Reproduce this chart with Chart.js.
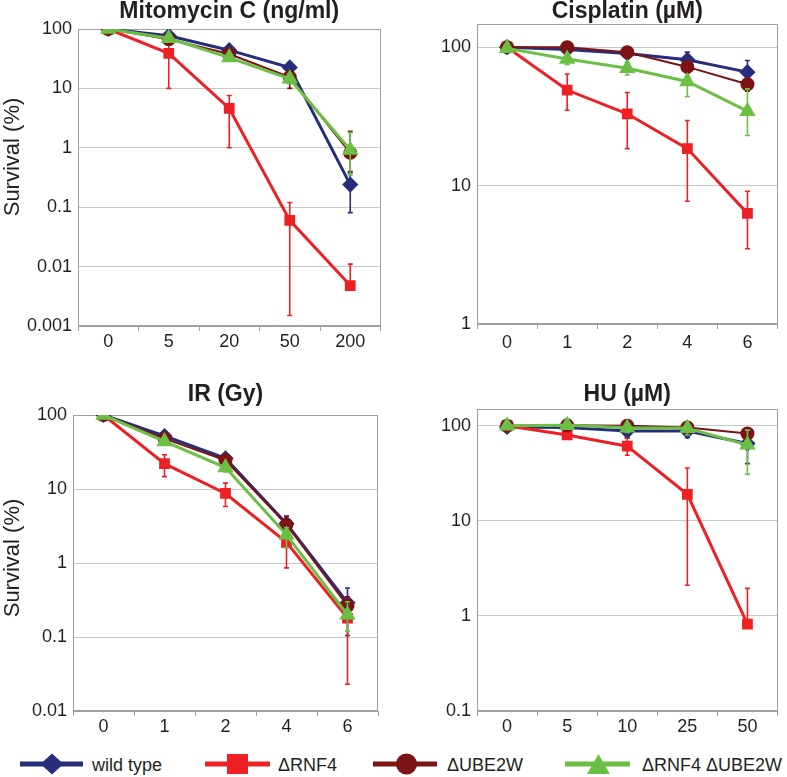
<!DOCTYPE html>
<html>
<head>
<meta charset="utf-8">
<script src="https://cdn.jsdelivr.net/npm/chart.js@4.4.1/dist/chart.umd.min.js"></script>
<style>
  body { margin: 0; background: #fff; width: 787px; height: 777px; position: relative; overflow: hidden;
         font-family: "Liberation Sans", Arial, sans-serif; color: #231f20; }
  canvas { position: absolute; }
  .ylab { position: absolute; width: 200px; height: 26px; line-height: 26px; text-align: center;
          font-size: 22px; transform: rotate(-90deg); white-space: nowrap; }
  .icon { position: absolute; top: 752px; }
  .ltext { position: absolute; top: 755px; font-size: 18px; line-height: 20px; white-space: nowrap; }
</style>
</head>
<body>
<canvas id="mmc" width="390" height="352" style="left:0;top:0"></canvas>
<canvas id="cis" width="387" height="352" style="left:400px;top:0"></canvas>
<canvas id="ir" width="390" height="375" style="left:0;top:370px"></canvas>
<canvas id="hu" width="387" height="375" style="left:400px;top:370px"></canvas>

<div class="ylab" style="left:-88px;top:144px">Survival (%)</div>
<div class="ylab" style="left:-88px;top:545px">Survival (%)</div>

<svg class="icon" style="left:20px" width="63" height="24">
  <line x1="0" y1="12" x2="63" y2="12" stroke="#262e7b" stroke-width="5"/>
  <polygon points="32,1.5 43.5,12 32,22.5 20.5,12" fill="#262e7b"/>
</svg>
<span class="ltext" style="left:92px">wild type</span>
<svg class="icon" style="left:205px" width="65" height="24">
  <line x1="0" y1="12" x2="65" y2="12" stroke="#ed2124" stroke-width="5"/>
  <rect x="22" y="2" width="21" height="20" fill="#ed2124"/>
</svg>
<span class="ltext" style="left:278px">ΔRNF4</span>
<svg class="icon" style="left:373px" width="64" height="24">
  <line x1="0" y1="12" x2="64" y2="12" stroke="#7d1315" stroke-width="5"/>
  <circle cx="33.5" cy="12" r="10.5" fill="#7d1315"/>
</svg>
<span class="ltext" style="left:447px">ΔUBE2W</span>
<svg class="icon" style="left:565px" width="65" height="24">
  <line x1="0" y1="12" x2="65" y2="12" stroke="#6cbf45" stroke-width="5"/>
  <polygon points="33.5,2 45,22 22,22" fill="#6cbf45"/>
</svg>
<span class="ltext" style="left:642px">ΔRNF4 ΔUBE2W</span>

<script>
// series names
const seriesNames = ["wild type", "ΔRNF4", "ΔUBE2W", "ΔRNF4 ΔUBE2W"];

// Mitomycin C
const mmcLabels = ["0", "5", "20", "50", "200"];
const mmcTicks = [0.001, 0.01, 0.1, 1, 10, 100];
const mmcTickLabels = ["0.001", "0.01", "0.1", "1", "10", "100"];
const mmcWT = [100, 77, 44, 22.5, 0.24];
const mmcWTErr = [[95, 105], [70, 84], [40, 49], [20, 25], [0.081, 0.38]];
const mmcRNF4 = [100, 39, 4.6, 0.06, 0.0048];
const mmcRNF4Err = [[90, 110], [10, 58], [1.0, 7.6], [0.0015, 0.12], [0.0048, 0.011]];
const mmcUBE2W = [100, 67, 38, 15.5, 0.82];
const mmcUBE2WErr = [[95, 105], [58, 75], [34, 42], [10, 17], [0.4, 1.9]];
const mmcDouble = [100, 70, 33, 14.5, 0.92];
const mmcDoubleErr = [[95, 105], [62, 78], [30, 37], [12, 17], [0.35, 1.8]];

// Cisplatin
const cisLabels = ["0", "1", "2", "4", "6"];
const cisTicks = [1, 10, 100];
const cisTickLabels = ["1", "10", "100"];
const cisWT = [100, 96, 90, 81, 66];
const cisWTErr = [[97, 103], [92, 100], [85, 98], [72, 92], [55, 80]];
const cisRNF4 = [100, 49, 33, 18.5, 6.3];
const cisRNF4Err = [[97, 103], [35, 64], [18.5, 47], [7.7, 29.5], [3.5, 9.1]];
const cisUBE2W = [100, 100, 92, 72, 54];
const cisUBE2WErr = [[96, 104], [94, 107], [86, 98], [65, 80], [48, 58]];
const cisDouble = [98, 82, 70.5, 56.5, 34.5];
const cisDoubleErr = [[95, 103], [75, 88], [63, 78], [44, 62], [23, 50]];

// IR
const irLabels = ["0", "1", "2", "4", "6"];
const irTicks = [0.01, 0.1, 1, 10, 100];
const irTickLabels = ["0.01", "0.1", "1", "10", "100"];
const irWT = [100, 52, 26, 3.4, 0.29];
const irWTErr = [[95, 105], [47, 58], [23, 29], [3.0, 4.0], [0.105, 0.46]];
const irRNF4 = [100, 22, 8.7, 1.9, 0.18];
const irRNF4Err = [[95, 105], [14.7, 29], [5.8, 12], [0.86, 2.6], [0.023, 0.35]];
const irUBE2W = [100, 48, 24.5, 3.3, 0.265];
const irUBE2WErr = [[96, 104], [44, 52], [22, 27], [2.7, 4.3], [0.2, 0.35]];
const irDouble = [100, 44, 19.5, 2.4, 0.2];
const irDoubleErr = [[96, 104], [40, 48], [17, 22], [1.6, 3.0], [0.12, 0.3]];

// HU
const huLabels = ["0", "5", "10", "25", "50"];
const huTicks = [0.1, 1, 10, 100];
const huTickLabels = ["0.1", "1", "10", "100"];
const huWT = [97, 96, 88, 88, 65];
const huWTErr = [[93, 101], [92, 100], [75, 95], [75, 95], [40, 75]];
const huRNF4 = [100, 80, 61, 19, 0.82];
const huRNF4Err = [[95, 105], [76, 84], [49, 74], [2.1, 36], [0.82, 1.95]];
const huUBE2W = [100, 101, 100, 96, 83];
const huUBE2WErr = [[94, 106], [95, 107], [92, 110], [88, 104], [76, 90]];
const huDouble = [100, 101, 95, 94, 63];
const huDoubleErr = [[94, 106], [95, 108], [85, 104], [80, 104], [31, 90]];

const styles = [
  { color: "#262e7b", point: "rectRot", radius: 6, width: 3 },
  { color: "#ed2124", point: "rect", radius: 5.5, width: 3 },
  { color: "#7d1315", point: "circle", radius: 6, width: 2 },
  { color: "#6cbf45", point: "triangle", radius: 6.5, width: 3 }
];

Chart.defaults.font.family = "'Liberation Sans', Arial, sans-serif";
Chart.defaults.color = "#231f20";

const framePlugin = {
  id: "frame",
  beforeDatasetsDraw(chart) {
    const { ctx, chartArea: a } = chart;
    ctx.save();
    ctx.strokeStyle = "#a0a0a0";
    ctx.lineWidth = 1;
    ctx.strokeRect(Math.round(a.left) + 0.5, Math.round(a.top) + 0.5,
                   Math.round(a.width) - 1, Math.round(a.height) - 1);
    ctx.restore();
  }
};

const errorBars = {
  id: "errorBars",
  beforeDatasetDraw(chart, args) {
    const ds = chart.data.datasets[args.index];
    if (!ds.errors) return;
    const { ctx, chartArea: a } = chart;
    const y = chart.scales.y;
    ctx.save();
    ctx.beginPath();
    ctx.rect(a.left, a.top, a.width, a.height);
    ctx.clip();
    ctx.strokeStyle = ds.borderColor;
    ctx.lineWidth = 1.6;
    ds.errors.forEach((e, i) => {
      if (!e) return;
      const px = args.meta.data[i].x;
      const top = y.getPixelForValue(e[1]);
      const bot = y.getPixelForValue(e[0]);
      ctx.beginPath();
      ctx.moveTo(px, top); ctx.lineTo(px, bot);
      ctx.moveTo(px - 2.5, top); ctx.lineTo(px + 2.5, top);
      ctx.moveTo(px - 2.5, bot); ctx.lineTo(px + 2.5, bot);
      ctx.stroke();
    });
    ctx.restore();
  }
};

function makeChart(id, title, labels, values, errs, yMin, yMax, ticks, tickLabels, p) {
  const datasets = values.map((v, i) => ({
    label: seriesNames[i],
    data: v,
    errors: errs[i],
    borderColor: styles[i].color,
    backgroundColor: styles[i].color,
    pointBackgroundColor: styles[i].color,
    pointBorderColor: styles[i].color,
    pointStyle: styles[i].point,
    pointRadius: styles[i].radius,
    borderWidth: styles[i].width,
    tension: 0,
    order: 3 - i
  }));
  return new Chart(document.getElementById(id), {
    type: "line",
    data: { labels: labels, datasets: datasets },
    options: {
      responsive: false,
      animation: false,
      layout: { padding: { left: 0, right: p.padRight, top: 0, bottom: 0 } },
      plugins: {
        legend: { display: false },
        tooltip: { enabled: false },
        title: {
          display: true,
          fullSize: false,
          text: title,
          font: { size: 23, weight: "bold", lineHeight: 1 },
          color: "#231f20",
          padding: { top: p.tTop, bottom: p.tBottom }
        }
      },
      scales: {
        x: {
          type: "category",
          offset: true,
          grid: { offset: true, drawOnChartArea: false, drawTicks: true, tickLength: 5, color: "#a0a0a0" },
          border: { color: "#a0a0a0" },
          ticks: { font: { size: 18 }, padding: p.xPad, maxRotation: 0, autoSkip: false },
          afterFit(s) { s.height = p.xHeight; }
        },
        y: {
          type: "logarithmic",
          min: yMin,
          max: yMax,
          grid: { color: "#c8c8c8", drawTicks: false },
          border: { color: "#a0a0a0" },
          ticks: {
            font: { size: 18 },
            padding: 6,
            autoSkip: false,
            callback: (v, i) => tickLabels[i]
          },
          afterBuildTicks(s) { s.ticks = ticks.map(v => ({ value: v })); },
          afterFit(s) { s.width = p.yWidth; }
        }
      }
    },
    plugins: [framePlugin, errorBars]
  });
}

makeChart("mmc", "Mitomycin C (ng/ml)", mmcLabels,
  [mmcWT, mmcRNF4, mmcUBE2W, mmcDouble], [mmcWTErr, mmcRNF4Err, mmcUBE2WErr, mmcDoubleErr],
  0.001, 100, mmcTicks, mmcTickLabels,
  { yWidth: 78, xHeight: 26, padRight: 8, tTop: 0, tBottom: 6, xPad: 0 });

makeChart("cis", "Cisplatin (µM)", cisLabels,
  [cisWT, cisRNF4, cisUBE2W, cisDouble], [cisWTErr, cisRNF4Err, cisUBE2WErr, cisDoubleErr],
  1, 147, cisTicks, cisTickLabels,
  { yWidth: 77, xHeight: 28, padRight: 6, tTop: 0, tBottom: 1, xPad: 3 });

makeChart("ir", "IR (Gy)", irLabels,
  [irWT, irRNF4, irUBE2W, irDouble], [irWTErr, irRNF4Err, irUBE2WErr, irDoubleErr],
  0.01, 100, irTicks, irTickLabels,
  { yWidth: 73, xHeight: 34, padRight: 12, tTop: 13.5, tBottom: 8.5, xPad: 0 });

makeChart("hu", "HU (µM)", huLabels,
  [huWT, huRNF4, huUBE2W, huDouble], [huWTErr, huRNF4Err, huUBE2WErr, huDoubleErr],
  0.1, 150, huTicks, huTickLabels,
  { yWidth: 77, xHeight: 34, padRight: 6, tTop: 13.5, tBottom: 2.5, xPad: 0 });
</script>
</body>
</html>
